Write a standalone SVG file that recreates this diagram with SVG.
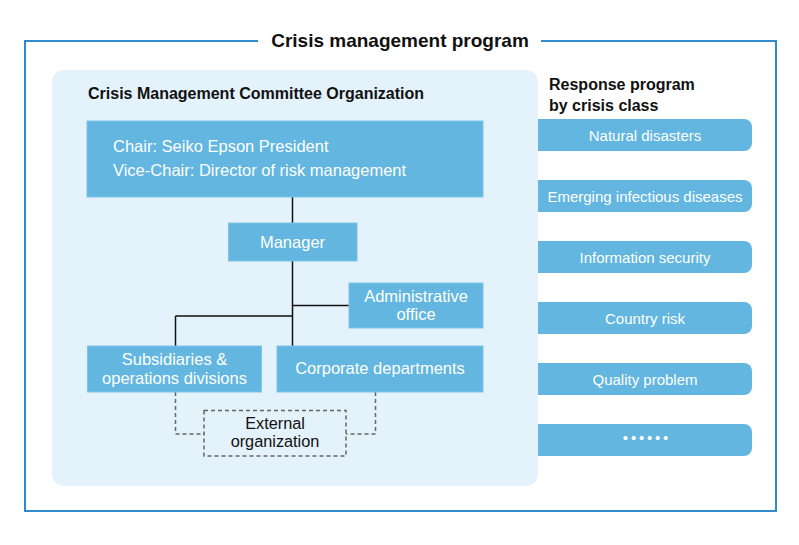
<svg xmlns="http://www.w3.org/2000/svg" width="799" height="545" viewBox="0 0 799 545">
<style>
text{font-family:"Liberation Sans",Arial,sans-serif}
.box{fill:#62b6df;stroke:#7ec4e7;stroke-width:1}
.w{fill:#fff;font-size:16.5px}
.wc{fill:#fff;font-size:16.5px;text-anchor:middle}
.rs{fill:#fff;font-size:15px;text-anchor:middle}
.h{fill:#111;font-size:16px;font-weight:bold}
.ln{stroke:#111;stroke-width:1.5;fill:none}
.dl{stroke:#666;stroke-width:1.5;fill:none;stroke-dasharray:4 3}
</style>
<defs>
<path id="rb" d="M0,0 H206 a8,8 0 0 1 8,8 V24 a8,8 0 0 1 -8,8 H0 Z" fill="#62b6df"/>
</defs>
<rect width="799" height="545" fill="#fff"/>
<g id="frame">
<rect x="25" y="41" width="751" height="470" fill="none" stroke="#1b7fc6" stroke-width="1.8"/>
<rect x="258" y="30" width="283" height="22" fill="#fff"/>
<text x="400" y="47" text-anchor="middle" font-size="19" font-weight="bold" fill="#111">Crisis management program</text>
</g>
<g id="panel">
<rect x="52" y="70" width="486" height="416" rx="12" fill="#e4f2fb"/>
<text class="h" x="88" y="99">Crisis Management Committee Organization</text>
</g>
<g id="connectors">
<path class="ln" d="M292.5,197 V223 M292.5,261 V346 M292.5,305.5 H349 M175.5,316 H292.5 M175.5,316 V346"/>
<path class="dl" d="M175.5,392 V434 H204 M375.5,392 V434 H346"/>
</g>
<g id="chair">
<rect class="box" x="87" y="121" width="396" height="76"/>
<text class="w" x="113" y="152">Chair: Seiko Epson President</text>
<text class="w" x="113" y="176">Vice-Chair: Director of risk management</text>
</g>
<g id="manager">
<rect class="box" x="228.5" y="223" width="128.5" height="38"/>
<text class="wc" x="292.5" y="248">Manager</text>
</g>
<g id="admin">
<rect class="box" x="349" y="283" width="134" height="45"/>
<text class="wc" x="416" y="302">Administrative</text>
<text class="wc" x="416" y="320">office</text>
</g>
<g id="subsidiaries">
<rect class="box" x="87.5" y="346" width="174" height="46"/>
<text class="wc" x="174.5" y="365">Subsidiaries &amp;</text>
<text class="wc" x="174.5" y="384">operations divisions</text>
</g>
<g id="corporate">
<rect class="box" x="277" y="346" width="206" height="46"/>
<text class="wc" x="380" y="374">Corporate departments</text>
</g>
<g id="external">
<rect x="204" y="410.5" width="142" height="45.5" fill="none" stroke="#666" stroke-width="1.5" stroke-dasharray="4 3"/>
<text x="275" y="429" text-anchor="middle" font-size="16.3" fill="#111">External</text>
<text x="275" y="447" text-anchor="middle" font-size="16.3" fill="#111">organization</text>
</g>
<g id="response">
<text class="h" x="549" y="90">Response program</text>
<text class="h" x="549" y="111">by crisis class</text>
</g>
<g id="natural"><use href="#rb" x="538" y="119"/><text class="rs" x="645" y="141">Natural disasters</text></g>
<g id="infectious"><use href="#rb" x="538" y="180"/><text class="rs" x="645" y="202">Emerging infectious diseases</text></g>
<g id="infosec"><use href="#rb" x="538" y="241"/><text class="rs" x="645" y="263">Information security</text></g>
<g id="country"><use href="#rb" x="538" y="302"/><text class="rs" x="645" y="324">Country risk</text></g>
<g id="quality"><use href="#rb" x="538" y="363"/><text class="rs" x="645" y="385">Quality problem</text></g>
<g id="etc"><use href="#rb" x="538" y="424"/><text class="rs" x="647" y="443" font-size="9" letter-spacing="2.8">••••••</text></g>
</svg>
